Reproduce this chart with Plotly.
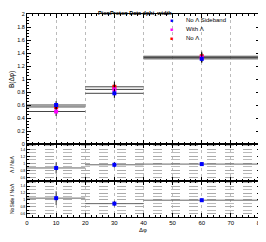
import plotly.graph_objects as go

# ---------------- data ----------------
bin_edges = [0, 20, 40, 80]
x_centers = [10, 30, 60]

no_lambda_sideband = [0.60, 0.78, 1.31]
no_lambda_sideband_err = [0.06, 0.07, 0.06]
with_lambda = [0.50, 0.84, 1.33]
with_lambda_err = [0.07, 0.08, 0.07]
no_lambda = [0.57, 0.88, 1.35]
no_lambda_err = [0.06, 0.08, 0.07]

ratio_lambda = [0.87, 0.96, 0.98]
ratio_lambda_err = [0.16, 0.08, 0.05]
ratio_side = [1.05, 0.89, 0.99]
ratio_side_err = [0.20, 0.08, 0.05]

series_names = ["No \u039b Sideband", "With \u039b", "No \u039b"]
series_colors = ["#0000ff", "#ff00ff", "#ff0000"]

W, H = 266, 242
OFF = 8  # page body margin offset of the figure on screen
# desired screen positions of plot frame
SX0, SX1, SY0, SY1 = 27, 260, 14, 217
L = SX0 - OFF
R = W - (SX1 - OFF)
T = SY0 - OFF
B = H - (SY1 - OFF)
PW = SX1 - SX0
PH = SY1 - SY0
FONT = "Liberation Sans, Arial, sans-serif"


def py(sy):
    return (SY1 - sy) / PH


def px(sx):
    return (sx - SX0) / PW


def steps(vals):
    xs, ys = [], []
    for i, v in enumerate(vals):
        xs += [bin_edges[i], bin_edges[i + 1], None]
        ys += [v, v, None]
    return xs, ys


fig = go.Figure()

for vals in [no_lambda, with_lambda, no_lambda_sideband]:
    xs, ys = steps(vals)
    fig.add_trace(go.Scatter(x=xs, y=ys, mode="lines", line=dict(color="#444444", width=1),
                             showlegend=False, hoverinfo="skip", xaxis="x", yaxis="y"))

data = [no_lambda_sideband, with_lambda, no_lambda]
errs = [no_lambda_sideband_err, with_lambda_err, no_lambda_err]
for i in [2, 1, 0]:
    fig.add_trace(go.Scatter(x=x_centers, y=data[i], mode="markers", name=series_names[i],
                             marker=dict(symbol="square", size=4, color=series_colors[i]),
                             error_y=dict(type="data", array=errs[i], color="black", thickness=1, width=0),
                             showlegend=False, xaxis="x", yaxis="y"))

for vals, err, xa, ya in [(ratio_lambda, ratio_lambda_err, "x2", "y2"),
                          (ratio_side, ratio_side_err, "x3", "y3")]:
    xs, ys = steps(vals)
    fig.add_trace(go.Scatter(x=xs, y=ys, mode="lines", line=dict(color="#666666", width=1),
                             showlegend=False, hoverinfo="skip", xaxis=xa, yaxis=ya))
    fig.add_trace(go.Scatter(x=x_centers, y=vals, mode="markers", showlegend=False,
                             marker=dict(symbol="square", size=4, color="#0000ff"),
                             error_y=dict(type="data", array=err, color="#333333", thickness=1, width=0),
                             xaxis=xa, yaxis=ya))

d_top = py(144)
d_mid = py(181)

axis_common = dict(showline=True, linecolor="black", linewidth=1, mirror="ticks",
                   ticks="inside", tickcolor="black", zeroline=False, automargin=False)

xcommon = dict(range=[0, 80], dtick=10, ticklen=4,
               minor=dict(ticks="inside", ticklen=2, dtick=2, tickcolor="black"),
               showgrid=True, gridcolor="#bbbbbb", griddash="dot", gridwidth=1, **axis_common)

ratio_y = dict(range=[0.5, 1.55], tick0=0.6, dtick=0.2, ticklen=3, tickfont=dict(size=3.5),
               showgrid=True, gridcolor="#aaaaaa", griddash="dash",
               minor=dict(dtick=0.1, showgrid=True, gridcolor="#bbbbbb", griddash="dash",
                          ticks="inside", ticklen=2, tickcolor="black"),
               **axis_common)

annotations = [
    dict(text="<b>PionProton Data dphi_width</b>", xref="paper", yref="paper", x=px(135), y=py(12.5),
         xanchor="center", yanchor="middle", showarrow=False, font=dict(size=5.5, family=FONT)),
    dict(text="B(\u0394\u03c6)", xref="paper", yref="paper", x=px(12), y=py(80),
         xanchor="center", yanchor="middle", textangle=-90, showarrow=False, font=dict(size=6.5)),
    dict(text="\u039b / No\u039b", xref="paper", yref="paper", x=px(12), y=py(164),
         xanchor="center", yanchor="middle", textangle=-90, showarrow=False, font=dict(size=5)),
    dict(text="NoSide / No\u039b", xref="paper", yref="paper", x=px(12), y=py(199),
         xanchor="center", yanchor="middle", textangle=-90, showarrow=False, font=dict(size=5)),
    dict(text="\u0394\u03c6", xref="paper", yref="paper", x=px(143), y=py(230),
         xanchor="center", yanchor="middle", showarrow=False, font=dict(size=6)),
]
legend_rows = [20, 29, 38]
for name, color, ry in zip(series_names, series_colors, legend_rows):
    annotations.append(dict(text="\u25a0", xref="paper", yref="paper", x=px(171), y=py(ry),
                            xanchor="center", yanchor="middle", showarrow=False,
                            font=dict(size=5, color=color)))
    annotations.append(dict(text=name, xref="paper", yref="paper", x=px(184), y=py(ry),
                            xanchor="left", yanchor="middle", showarrow=False,
                            font=dict(size=6, color="black")))

fig.update_layout(
    width=W, height=H, margin=dict(l=L, r=R, t=T, b=B, autoexpand=False),
    paper_bgcolor="white", plot_bgcolor="white",
    font=dict(family=FONT, size=6, color="black"),
    showlegend=False,
    xaxis=dict(anchor="y", domain=[0, 1], showticklabels=False, **xcommon),
    xaxis2=dict(anchor="y2", domain=[0, 1], showticklabels=False, **xcommon),
    xaxis3=dict(anchor="y3", domain=[0, 1], showticklabels=True, tickfont=dict(size=6), **xcommon),
    yaxis=dict(anchor="x", domain=[d_top, 1], range=[0, 2], dtick=0.2, ticklen=4,
               minor=dict(ticks="inside", ticklen=2, dtick=0.05, tickcolor="black"),
               tickfont=dict(size=5.5), showgrid=False, **axis_common),
    yaxis2=dict(anchor="x2", domain=[d_mid, d_top], **ratio_y),
    yaxis3=dict(anchor="x3", domain=[0, d_mid], **ratio_y),
    annotations=annotations,
)

fig.write_html("out.html")
